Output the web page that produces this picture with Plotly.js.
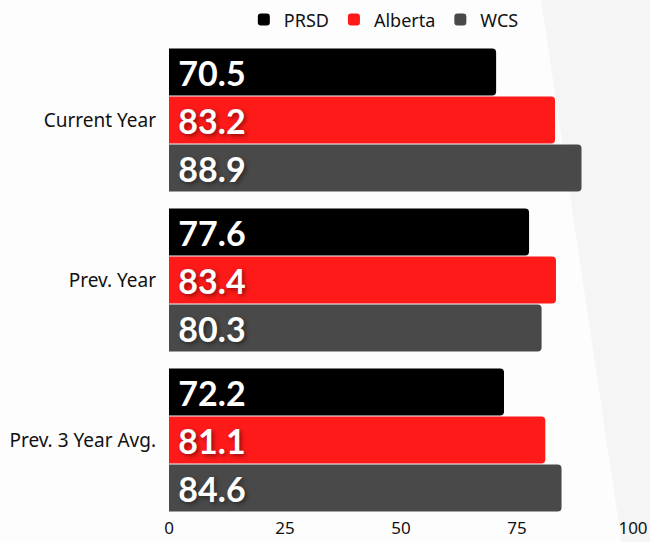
<!DOCTYPE html>
<html><head><meta charset="utf-8">
<script src="https://cdn.plot.ly/plotly-3.0.1.min.js"></script>
<style>html,body{margin:0;padding:0;background:#fdfdfd;}</style>
</head><body>
<div id="chart" style="width:650px;height:542px;"></div>
<script>
const categories = ["Current Year", "Prev. Year", "Prev. 3 Year Avg."];
const seriesNames = ["PRSD", "Alberta", "WCS"];
const prsd = [70.5, 77.6, 72.2];
const alberta = [83.2, 83.4, 81.1];
const wcs = [88.9, 80.3, 84.6];
const tickVals = [0, 25, 50, 75, 100];

const colors = ["#000000", "#ff1a1a", "#494949"];
const values = [prsd, alberta, wcs];

const traces = values.map((v, i) => ({
  type: "bar",
  orientation: "h",
  name: seriesNames[i],
  y: categories,
  x: v,
  marker: {color: colors[i], line: {width: 0}},
  text: v.map(d => d.toFixed(1)),
  texttemplate: "\u2009\u200A%{text}",
  textposition: "inside",
  insidetextanchor: "start",
  textangle: 0,
  textfont: {family: "Lato, sans-serif", size: 34, color: "#ffffff", weight: "bold",
             shadow: "2px 2px 4px rgba(0,0,0,0.45)"},
  hoverinfo: "skip"
}));

const layout = {
  width: 650, height: 542,
  margin: {l: 169, r: 17, t: 40, b: 22, autoexpand: false},
  paper_bgcolor: "#fdfdfd",
  plot_bgcolor: "rgba(0,0,0,0)",
  barmode: "group",
  bargap: 0.1,
  bargroupgap: 0.02,
  barcornerradius: 4,
  showlegend: true,
  legend: {orientation: "h", x: 0.463, xanchor: "center", y: 1.042, yanchor: "middle",
           font: {family: "Noto Sans, sans-serif", size: 18, color: "#111"},
           itemwidth: 30, traceorder: "normal", bgcolor: "rgba(0,0,0,0)"},
  xaxis: {range: [0, 100], tickvals: tickVals, showgrid: false, zeroline: false,
          showline: false, ticks: "", ticklabelstandoff: -4,
          tickfont: {family: "Noto Sans, sans-serif", size: 17, color: "#111"},
          fixedrange: true},
  yaxis: {autorange: "reversed", showgrid: false, zeroline: false, showline: false, ticks: "",
          ticklabelstandoff: 12,
          tickfont: {family: "Noto Sans, sans-serif", size: 19, color: "#111"}},
  shapes: [{type: "path", xref: "paper", yref: "paper", layer: "below",
            path: "M 0.802 1.083 L 1.04 1.083 L 1.04 -0.05 L 0.976 -0.05 Z",
            fillcolor: "#f5f5f5", line: {width: 0}}]
};

Plotly.newPlot("chart", traces, layout, {displayModeBar: false, staticPlot: true});
</script>
</body></html>
